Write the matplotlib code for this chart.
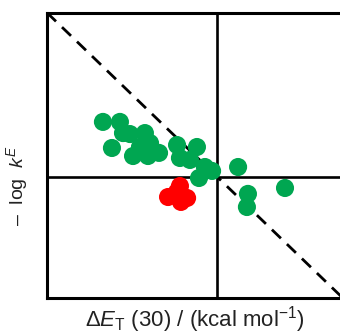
import matplotlib
matplotlib.use("Agg")
import matplotlib.pyplot as plt

plt.rcParams['mathtext.fontset'] = 'custom'
plt.rcParams['mathtext.rm'] = 'Liberation Sans'
plt.rcParams['mathtext.it'] = 'Liberation Sans:italic'
plt.rcParams['font.family'] = ['Liberation Sans', 'DejaVu Sans']

green_x = [-0.671, -0.571, -0.618, -0.512, -0.424, -0.494, -0.406, -0.341, -0.394, -0.553,
           -0.235, -0.118, -0.218, -0.071, -0.029, -0.106, 0.124, 0.400, 0.182, 0.176, -0.453, -0.159]
green_y = [0.334, 0.334, 0.175, 0.260, 0.266, 0.126, 0.126, 0.145, 0.205, 0.266,
           0.193, 0.181, 0.114, 0.059, 0.035, -0.008, 0.059, -0.069, -0.105, -0.185, 0.181, 0.102]
red_x = [-0.218, -0.288, -0.212, -0.176, -0.235]
red_y = [-0.057, -0.124, -0.154, -0.130, -0.093]
trend_x = [-1.0, 0.75]
trend_y = [1.0, -0.75]

fig = plt.figure(figsize=(3.4, 3.35), dpi=100)
ax = fig.add_axes([47/340, 1-297.7/335, 1-47/340 + 0.01, (297.7-12.7)/335])
ax.set_xlim(-1, 0.7235 + 0.01*340/170)
ax.set_ylim(-0.738, 1)

ax.axvline(0, color='black', lw=1.9, zorder=1)
ax.axhline(0, color='black', lw=1.9, zorder=1)
ax.plot(trend_x, trend_y, color='black', lw=2.0, dashes=(4.5, 3), zorder=1)
ax.scatter(green_x, green_y, s=170, color='#00A651', edgecolors='none', zorder=3)
ax.scatter(red_x, red_y, s=170, color='#FF0000', edgecolors='none', zorder=3)

for side in ['left', 'bottom', 'top']:
    ax.spines[side].set_linewidth(2.2)
ax.spines['right'].set_visible(False)
ax.set_xticks([])
ax.set_yticks([])

fig.text(0.574, 0.045, r'$\Delta \mathit{E}_{\mathrm{T}}$ (30) / (kcal mol$^{\mathrm{-1}}$)',
         ha='center', va='center', fontsize=16, color='#222222')
fig.text(0.05, 0.445, r'–  log  $\mathit{k}^{\mathit{E}}$', ha='center', va='center',
         rotation=90, fontsize=14, color='#222222')

fig.savefig('out.png', dpi=100)
